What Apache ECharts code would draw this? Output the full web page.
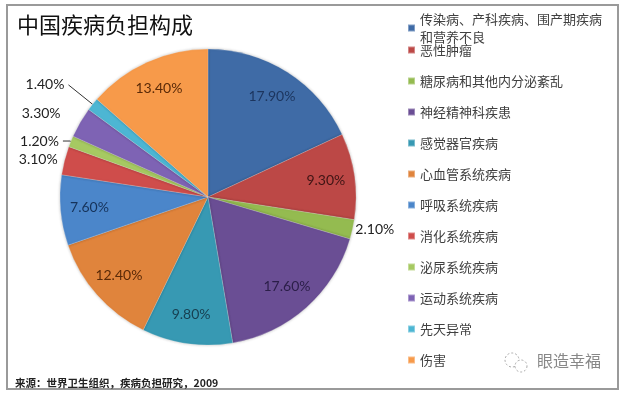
<!DOCTYPE html>
<html><head><meta charset="utf-8">
<script src="https://cdn.jsdelivr.net/npm/echarts@6/dist/echarts.min.js"></script>
<style>html,body{margin:0;padding:0;background:#fff}#c{width:621px;height:393px}</style>
</head><body><div id="c"></div>
<script>
const categories = ['传染病、产科疾病、围产期疾病和营养不良','恶性肿瘤','糖尿病和其他内分泌紊乱','神经精神科疾患','感觉器官疾病','心血管系统疾病','呼吸系统疾病','消化系统疾病','泌尿系统疾病','运动系统疾病','先天异常','伤害'];
const values = [17.9, 9.3, 2.1, 17.6, 9.8, 12.4, 7.6, 3.1, 1.2, 3.3, 1.4, 13.4];
const titleText = '中国疾病负担构成';
const sourceText = '来源：世界卫生组织，疾病负担研究，2009';
const watermarkText = '眼造幸福';

const colors = ['#3F6BA6','#BC4846','#94BB50','#6A4E94','#3799B3','#E0843C','#4B86CA','#CF4D4B','#A6C962','#7E63B4','#4DB6D3','#F79A4A'];
const labelColors = ['#1C355E','#3E1414','#222','#2B1E48','#173F50','#5A2A08','#16335A','#222','#222','#222','#222','#5A2A08'];
// per-item outside label line style (only for small slices)
const outsideLine = {2:{len:2,len2:0,show:false,dist:1},7:{len:3,len2:0,show:false,dist:4},8:{len:1,len2:7,show:true,dist:4},9:{len:18,len2:0,show:false,dist:4},10:{len:31,len2:0,show:true,dist:4}};

const chart = echarts.init(document.getElementById('c'));
const pct = v => v.toFixed(2) + '%';
const mainData = categories.map((n,i)=>{
  const o = outsideLine[i];
  return {
    name:n, value:values[i],
    itemStyle:{color:colors[i]},
    label:o ? {show:true, formatter:pct(values[i]), distanceToLabelLine:o.dist} : {show:false},
    labelLine: o ? {show:o.show, length:o.len, length2:o.len2} : {show:false}
  };
});
const innerData = categories.map((n,i)=>({
  name:n, value:values[i],
  label:{show:!outsideLine[i], color:labelColors[i], formatter:pct(values[i])}
}));
const legendName = n => n.length > 14 ? n.slice(0,14) + '\n' + n.slice(14) : n;
const legendText = {color:'#404040', fontFamily:'Noto Sans CJK SC', fontSize:13, lineHeight:18};
chart.setOption({
  animation:false,
  backgroundColor:'#fff',
  title:[
    {text:titleText, left:12, top:9, textStyle:{fontFamily:'Noto Sans CJK SC', fontSize:22, fontWeight:'normal', color:'#111'}},
    {text:sourceText, left:10, top:373, textStyle:{fontFamily:'Noto Sans CJK SC', fontSize:10.5, fontWeight:'bold', color:'#222'}},
    {text:watermarkText, left:532, top:348, textStyle:{fontFamily:'Noto Sans CJK SC', fontSize:16, fontWeight:'normal', color:'#888'}}
  ],
  legend:[
    {orient:'vertical', left:402, top:5, icon:'rect', itemWidth:7, itemHeight:7, itemGap:17,
     data:categories.slice(0,1), formatter:legendName, textStyle:legendText, selectedMode:false},
    {orient:'vertical', left:402, top:36, icon:'rect', itemWidth:7, itemHeight:7, itemGap:13,
     data:categories.slice(1), formatter:legendName, textStyle:legendText, selectedMode:false}
  ],
  graphic:[
    {type:'rect', shape:{x:7,y:5,width:611,height:384}, style:{fill:'none', stroke:'#9a9a9a', lineWidth:2}, silent:true},
    {type:'circle', shape:{cx:512,cy:360,r:7}, style:{fill:'none', stroke:'#aaa', lineWidth:1, lineDash:[2,2]}, silent:true},
    {type:'circle', shape:{cx:521,cy:366,r:6}, style:{fill:'#fff', stroke:'#aaa', lineWidth:1, lineDash:[2,2]}, silent:true}
  ],
  series:[
    {type:'pie', center:[208,197], radius:[0,148], startAngle:90, clockwise:true,
     avoidLabelOverlap:false, data:mainData,
     itemStyle:{borderColor:'rgba(255,255,255,0.35)', borderWidth:0.6, shadowBlur:3, shadowColor:'rgba(0,0,0,0.25)'},
     label:{position:'outside', color:'#222', fontFamily:'Lato', fontSize:14},
     labelLine:{lineStyle:{color:'#333', width:1}},
     emphasis:{disabled:true}},
    {type:'pie', center:[208,197], radius:[84,148], startAngle:90, clockwise:true, silent:true,
     avoidLabelOverlap:false, data:innerData, legendHoverLink:false,
     itemStyle:{color:'rgba(0,0,0,0)', borderWidth:0},
     label:{position:'inside', fontFamily:'Lato', fontSize:14},
     labelLine:{show:false},
     emphasis:{disabled:true}}
  ]
});
</script></body></html>
